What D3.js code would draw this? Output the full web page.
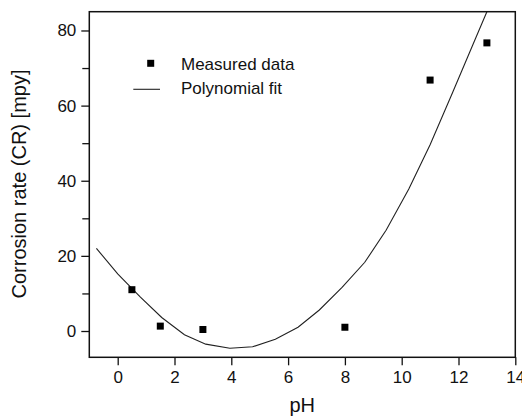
<!DOCTYPE html>
<html>
<head>
<meta charset="utf-8">
<script src="https://cdn.jsdelivr.net/npm/d3@7"></script>
<style>
  body { margin: 0; background: #fff; }
  svg text { font-family: "Liberation Sans", Arial, sans-serif; fill: #111; }
</style>
</head>
<body>
<div id="chart"></div>
<script>
// measured points
const measuredPH = [0.5, 1.5, 3, 8, 11, 13];
const measuredCR = [11, 1.3, 0.4, 1, 66.8, 76.7];

// polynomial fit
const fitPH = [-0.75, 0.0, 0.8, 1.55, 2.35, 3.1, 3.95, 4.75, 5.55, 6.35, 7.1, 7.9, 8.7, 9.45, 10.25, 11.0, 11.8, 12.55, 13.0];
const fitCR = [22.0, 15.2, 9.0, 3.6, -1.0, -3.5, -4.6, -4.2, -2.2, 1.0, 5.6, 11.6, 18.3, 26.8, 37.8, 49.6, 63.6, 77.0, 85.0];

const xTicks = [0, 2, 4, 6, 8, 10, 12, 14];
const yTicks = [0, 20, 40, 60, 80];
const yMinorTicks = [10, 30, 50, 70];

const margin = { top: 11.7, right: 6.7, bottom: 59.7, left: 89.3 },
      width = 522 - margin.left - margin.right,
      height = 417 - margin.top - margin.bottom;

const svg = d3.select("#chart")
    .append("svg")
    .attr("width", 522)
    .attr("height", 417);

const g = svg.append("g")
    .attr("transform", `translate(${margin.left},${margin.top})`);

const x = d3.scaleLinear().domain([-1, 14]).range([0, width]);
const y = d3.scaleLinear().domain([-7, 85]).range([height, 0]);

// axes
const xAxis = g.append("g")
    .attr("transform", `translate(0,${height})`)
    .call(d3.axisBottom(x).tickValues(xTicks).tickSize(8).tickPadding(6));

const yAxis = g.append("g")
    .call(d3.axisLeft(y).tickValues(yTicks).tickSize(8).tickPadding(5));

g.append("g")
    .call(d3.axisLeft(y).tickValues(yMinorTicks).tickSize(7).tickFormat(""))
    .select(".domain").remove();

[xAxis, yAxis].forEach(a => {
    a.select(".domain").remove();
    a.selectAll("text").attr("font-size", "17px").attr("fill", "#111");
});
g.selectAll(".tick line").attr("stroke", "#111").attr("stroke-width", 1.3);

// frame
g.append("rect")
    .attr("x", 0).attr("y", 0)
    .attr("width", width).attr("height", height)
    .attr("fill", "none")
    .attr("stroke", "#111")
    .attr("stroke-width", 1.5);

g.append("clipPath").attr("id", "clip")
  .append("rect").attr("width", width).attr("height", height);

// fit line
const fitData = fitPH.map((p, i) => ({ ph: p, cr: fitCR[i] }));
g.append("path")
    .datum(fitData)
    .attr("clip-path", "url(#clip)")
    .attr("fill", "none")
    .attr("stroke", "#222")
    .attr("stroke-width", 1.1)
    .attr("d", d3.line().x(d => x(d.ph)).y(d => y(d.cr)));

// measured squares
const sq = 7;
g.selectAll("rect.pt")
    .data(measuredPH.map((p, i) => ({ ph: p, cr: measuredCR[i] })))
    .join("rect")
    .attr("class", "pt")
    .attr("x", d => x(d.ph) - sq / 2)
    .attr("y", d => y(d.cr) - sq / 2)
    .attr("width", sq).attr("height", sq)
    .attr("fill", "#000");

// legend
const legend = g.append("g");
legend.append("rect")
    .attr("x", 150.7 - margin.left - sq / 2).attr("y", 63.3 - margin.top - sq / 2)
    .attr("width", sq).attr("height", sq).attr("fill", "#000");
legend.append("text")
    .attr("x", 181 - margin.left).attr("y", 70 - margin.top)
    .attr("font-size", "17px")
    .text("Measured data");
legend.append("line")
    .attr("x1", 133.3 - margin.left).attr("x2", 160 - margin.left)
    .attr("y1", 89.3 - margin.top).attr("y2", 89.3 - margin.top)
    .attr("stroke", "#222").attr("stroke-width", 1.1);
legend.append("text")
    .attr("x", 181 - margin.left).attr("y", 94.5 - margin.top)
    .attr("font-size", "17px")
    .text("Polynomial fit");

// axis titles
svg.append("text")
    .attr("x", margin.left + x(6.5))
    .attr("y", 412)
    .attr("text-anchor", "middle")
    .attr("font-size", "20px")
    .text("pH");

svg.append("text")
    .attr("transform", `translate(26,184) rotate(-90)`)
    .attr("text-anchor", "middle")
    .attr("font-size", "20px")
    .text("Corrosion rate (CR) [mpy]");
</script>
</body>
</html>
